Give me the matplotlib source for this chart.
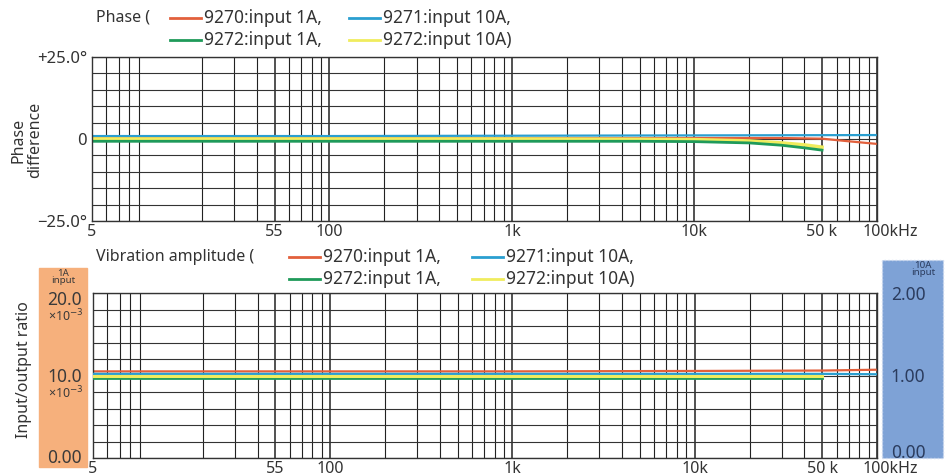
import matplotlib
matplotlib.use('Agg')
import matplotlib.pyplot as plt
import matplotlib.transforms as mtransforms
from matplotlib.lines import Line2D
from matplotlib.patches import Rectangle
from matplotlib.ticker import FixedLocator, NullFormatter

plt.rcParams['font.family'] = ['Noto Sans', 'DejaVu Sans']

# --- data ---
xtick_vals = [5, 50, 100, 1000, 10000, 50000, 100000]
xtick_labels = ['5', '55', '100', '1k', '10k', '50 k', '100kHz']

# phase difference, degrees
freq_9270_ph = [5, 1000, 10000, 30000, 50000, 70000, 100000]
phase_9270_1a = [0.3, 0.3, 0.3, 0.3, 0.1, -0.7, -1.5]
freq_9271_ph = [5, 100, 1000, 10000, 100000]
phase_9271_10a = [0.9, 0.9, 1.0, 1.1, 1.2]
freq_9272_ph = [5, 1000, 5000, 10000, 20000, 30000, 40000, 50000]
phase_9272_1a = [-0.7, -0.7, -0.7, -0.8, -1.2, -1.9, -2.7, -3.4]
phase_9272_10a = [0.0, 0.0, -0.1, -0.2, -0.6, -1.2, -1.8, -2.5]

# input/output ratio: 1A input in x10^-3, 10A input as is
freq_amp = [5, 1000, 10000, 50000, 100000]
amp_9270_1a = [10.5, 10.5, 10.55, 10.6, 10.7]
amp_9271_10a = [1.02, 1.02, 1.02, 1.02, 1.015]
freq_amp_9272 = [5, 1000, 10000, 50000]
amp_9272_1a = [9.7, 9.7, 9.7, 9.7]
amp_9272_10a = [0.99, 0.99, 0.99, 0.99]

RED = '#e2603c'
BLUE = '#2a9fd0'
GREEN = '#1f9a5a'
YELLOW = '#f0ec5e'
TXT = '#333333'

W, H = 949, 476
fig = plt.figure(figsize=(W / 100, H / 100), dpi=100)


def fx(px):
    return px / W


def fy(py):
    return 1 - py / H


def shift(label, dx=0, dy=0):
    label.set_transform(label.get_transform() +
                        mtransforms.ScaledTranslation(dx / 100, -dy / 100, fig.dpi_scale_trans))


def log_grid(ax):
    ax.set_xscale('log')
    ax.set_xlim(5, 100000)
    minors = [m * 10 ** e for e in range(0, 5) for m in range(2, 10)]
    ax.xaxis.set_minor_locator(FixedLocator(minors))
    ax.xaxis.set_minor_formatter(NullFormatter())
    ax.set_xticks(xtick_vals)
    ax.set_xticklabels(xtick_labels)
    ax.grid(which='major', axis='x', color='#222222', lw=1.1)
    ax.grid(which='minor', axis='x', color='#222222', lw=0.8)
    ax.grid(which='both', axis='y', color='#333333', lw=0.8)
    ax.tick_params(which='both', length=0, labelsize=11.5, colors=TXT)
    ax.tick_params(axis='x', pad=2)
    for s in ax.spines.values():
        s.set_color('#333333')
        s.set_linewidth(1.0)
    shift(ax.get_xticklabels()[-1], dx=13)
    ax.set_axisbelow(True)


def legend_rows(title, x0, y0, lx, dy):
    fig.text(fx(x0), fy(y0), title, fontsize=11.5, color=TXT, va='center')
    items = [(RED, '9270:input 1A,'), (BLUE, '9271:input 10A,'),
             (GREEN, '9272:input 1A,'), (YELLOW, '9272:input 10A)')]
    for i, (c, t) in enumerate(items):
        x = lx[i % 2]
        y = y0 + dy * (i // 2)
        fig.add_artist(Line2D([fx(x), fx(x + 31)], [fy(y), fy(y)], color=c, lw=2))
        fig.text(fx(x + 34), fy(y), t, fontsize=12.5, color=TXT, va='center')


# --- phase panel ---
ax1 = fig.add_axes([fx(92), fy(221), fx(877 - 92), fy(57) - fy(221)])
log_grid(ax1)
ax1.set_ylim(-25, 25)
ax1.set_yticks([-25, 0, 25])
ax1.set_yticklabels(['\u221225.0\u00b0', '0', '+25.0\u00b0'])
ax1.yaxis.set_minor_locator(FixedLocator(range(-25, 26, 5)))
ax1.tick_params(axis='y', labelsize=12)
ax1.plot(freq_9270_ph, phase_9270_1a, color=RED, lw=1.6)
ax1.plot(freq_9271_ph, phase_9271_10a, color=BLUE, lw=1.6)
ax1.plot(freq_9272_ph, phase_9272_10a, color=YELLOW, lw=2.6)
ax1.plot(freq_9272_ph, phase_9272_1a, color=GREEN, lw=2.0)
fig.text(fx(27), fy(140), 'Phase\ndifference', rotation=90, ha='center',
         va='center', fontsize=11.5, color=TXT, linespacing=1.0)
legend_rows('Phase (', 96, 18, [170, 349], 22)

# --- amplitude panel ---
fig.add_artist(Rectangle((fx(39), fy(467)), fx(48), fy(268) - fy(467),
                         color='#f6b07c', zorder=0))
fig.add_artist(Rectangle((fx(882), fy(458)), fx(61), fy(260) - fy(458),
                         facecolor='#7ea2d6', edgecolor='#c9d6ee', ls=':', lw=1, zorder=0))

ax2 = fig.add_axes([fx(93), fy(458), fx(877 - 93), fy(293) - fy(458)])
log_grid(ax2)
ax2.set_ylim(0, 20)
ax2.set_yticks([0, 10, 20])
ax2.set_yticklabels(['0.00', '10.0', '20.0'])
ax2.yaxis.set_minor_locator(FixedLocator(range(0, 21, 2)))
ax2.tick_params(axis='y', labelsize=12.5, pad=8, colors='#3a3a3a')
ax2.patch.set_facecolor('white')
ax2.plot(freq_amp, amp_9270_1a, color=RED, lw=1.6)
ax2.plot(freq_amp_9272, amp_9272_1a, color=GREEN, lw=2.0, zorder=3)
ylabs = ax2.get_yticklabels()
shift(ylabs[2], dy=5)
shift(ylabs[0], dy=-2)

ax3 = ax2.twinx()
ax3.set_ylim(0, 2)
ax3.set_yticks([0, 1, 2])
ax3.set_yticklabels(['0.00', '1.00', '2.00'])
ax3.tick_params(length=0, labelsize=12.5, pad=10, colors='#2b3c5e')
for s in ax3.spines.values():
    s.set_visible(False)
ax3.plot(freq_amp, amp_9271_10a, color=BLUE, lw=1.6)
ax3.plot(freq_amp_9272, amp_9272_10a, color=YELLOW, lw=2.2)
shift(ax3.get_yticklabels()[0], dy=-7)

for yv in [298, 375]:
    fig.text(fx(84), fy(yv + 18), '\u00d710$^{-3}$', ha='right', va='center',
             fontsize=9, color='#3a3a3a')
fig.text(fx(63), fy(277), '1A\ninput', ha='center', va='center', fontsize=7,
         color='#3a3a3a', linespacing=0.75)
fig.text(fx(923), fy(269), '10A\ninput', ha='center', va='center', fontsize=7,
         color='#2b3c5e', linespacing=0.75)
fig.text(fx(24), fy(370), 'Input/output ratio', rotation=90, ha='center',
         va='center', fontsize=11.5, color=TXT)
legend_rows('Vibration amplitude (', 96, 257, [289, 472], 22)

fig.savefig('out.png', dpi=100)
